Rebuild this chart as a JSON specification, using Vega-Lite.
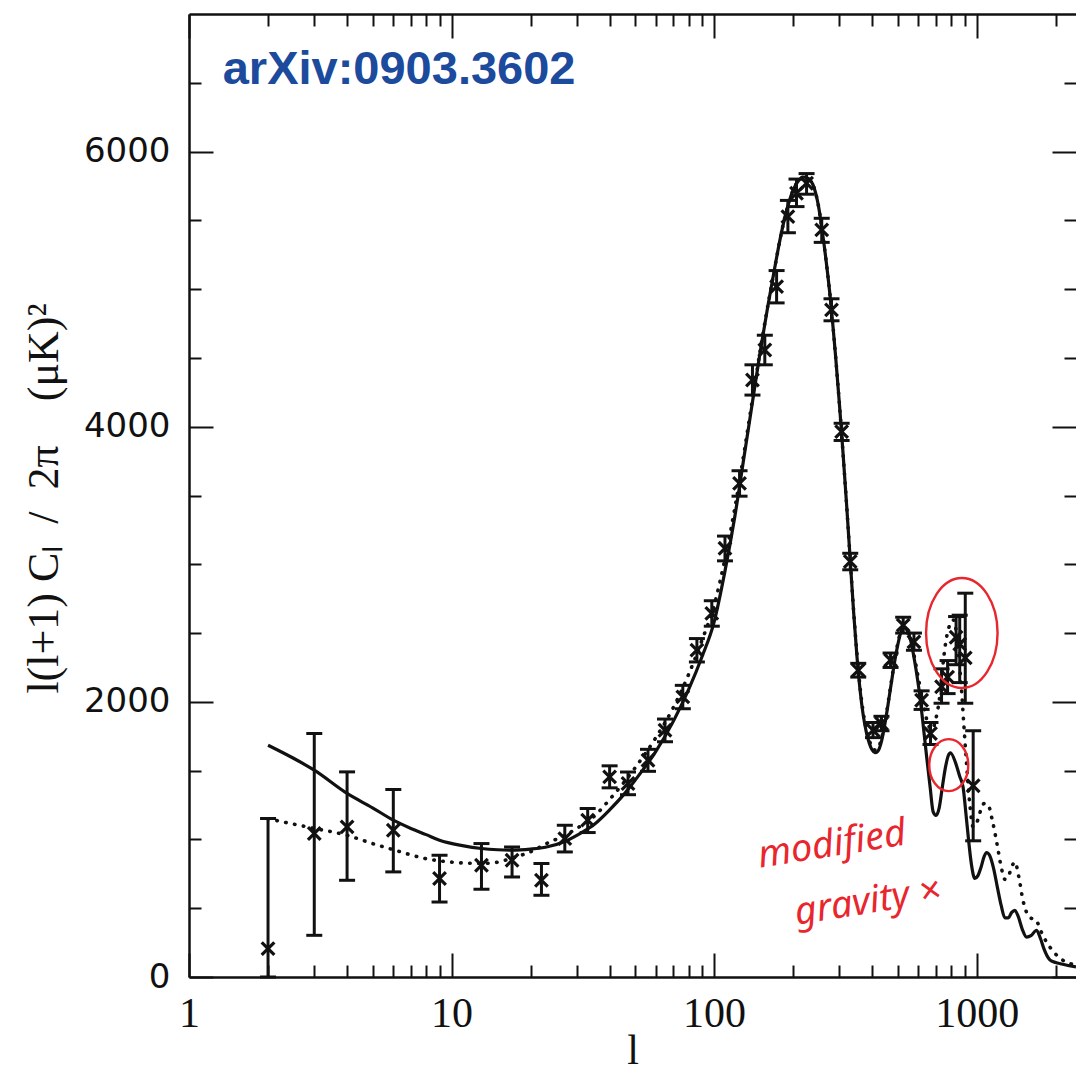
{
  "$schema": "https://vega.github.io/schema/vega-lite/v6.json",
  "width": 887,
  "height": 963,
  "autosize": {"type": "none"},
  "padding": {"left": 189, "top": 14, "right": 0, "bottom": 96},
  "background": "white",
  "config": {
    "view": {"stroke": null},
    "axis": {"grid": false, "domainColor": "#111", "domainWidth": 2.5, "tickColor": "#111", "tickWidth": 2, "labelColor": "#111", "titleColor": "#111"}
  },
  "datasets": {
    "lcdm": [
      {"l": 2, "v": 1685}, {"l": 2.5, "v": 1590}, {"l": 3, "v": 1503}, {"l": 4, "v": 1334}, {"l": 5, "v": 1230},
      {"l": 6, "v": 1140}, {"l": 7, "v": 1080}, {"l": 8, "v": 1035}, {"l": 9, "v": 994}, {"l": 11, "v": 955},
      {"l": 13, "v": 934}, {"l": 15, "v": 925}, {"l": 17, "v": 922}, {"l": 20, "v": 930}, {"l": 23, "v": 945},
      {"l": 27, "v": 985}, {"l": 30, "v": 1030}, {"l": 35, "v": 1110}, {"l": 40, "v": 1215}, {"l": 45, "v": 1320},
      {"l": 50, "v": 1430}, {"l": 60, "v": 1640}, {"l": 70, "v": 1860}, {"l": 80, "v": 2090}, {"l": 90, "v": 2330},
      {"l": 100, "v": 2580}, {"l": 110, "v": 2950}, {"l": 120, "v": 3350}, {"l": 130, "v": 3780}, {"l": 140, "v": 4180},
      {"l": 150, "v": 4550}, {"l": 160, "v": 4870}, {"l": 170, "v": 5150}, {"l": 180, "v": 5400}, {"l": 190, "v": 5590},
      {"l": 200, "v": 5720}, {"l": 210, "v": 5790}, {"l": 220, "v": 5815}, {"l": 230, "v": 5800}, {"l": 240, "v": 5740},
      {"l": 250, "v": 5600}, {"l": 260, "v": 5380}, {"l": 270, "v": 5130}, {"l": 280, "v": 4850}, {"l": 290, "v": 4520},
      {"l": 300, "v": 4170}, {"l": 310, "v": 3800}, {"l": 320, "v": 3420}, {"l": 330, "v": 3030}, {"l": 340, "v": 2650},
      {"l": 350, "v": 2330}, {"l": 360, "v": 2080}, {"l": 370, "v": 1900}, {"l": 380, "v": 1780}, {"l": 390, "v": 1700},
      {"l": 400, "v": 1650}, {"l": 410, "v": 1630}, {"l": 420, "v": 1640}, {"l": 435, "v": 1720}, {"l": 450, "v": 1870},
      {"l": 470, "v": 2100}, {"l": 490, "v": 2320}, {"l": 510, "v": 2480}, {"l": 525, "v": 2540}, {"l": 540, "v": 2530},
      {"l": 560, "v": 2450}, {"l": 580, "v": 2300}, {"l": 600, "v": 2120}, {"l": 620, "v": 1900}, {"l": 645, "v": 1600},
      {"l": 665, "v": 1380}, {"l": 683, "v": 1200}, {"l": 700, "v": 1175}, {"l": 720, "v": 1230}, {"l": 740, "v": 1380},
      {"l": 760, "v": 1520}, {"l": 780, "v": 1610}, {"l": 795, "v": 1630}, {"l": 830, "v": 1560}, {"l": 863, "v": 1455},
      {"l": 888, "v": 1380}, {"l": 910, "v": 1190}, {"l": 929, "v": 1018}, {"l": 955, "v": 820}, {"l": 984, "v": 716},
      {"l": 1010, "v": 735}, {"l": 1040, "v": 800}, {"l": 1070, "v": 880}, {"l": 1091, "v": 905}, {"l": 1120, "v": 885},
      {"l": 1160, "v": 790}, {"l": 1200, "v": 650}, {"l": 1240, "v": 520}, {"l": 1281, "v": 430}, {"l": 1320, "v": 430},
      {"l": 1360, "v": 470}, {"l": 1398, "v": 485}, {"l": 1440, "v": 440}, {"l": 1490, "v": 350}, {"l": 1549, "v": 290},
      {"l": 1610, "v": 300}, {"l": 1691, "v": 340}, {"l": 1750, "v": 280}, {"l": 1800, "v": 210}, {"l": 1900, "v": 125},
      {"l": 2000, "v": 105}, {"l": 2100, "v": 95}, {"l": 2250, "v": 82}, {"l": 2390, "v": 73}
    ],
    "modgrav": [
      {"l": 2, "v": 1150}, {"l": 3, "v": 1080}, {"l": 4, "v": 1030}, {"l": 5, "v": 970}, {"l": 6, "v": 925},
      {"l": 8, "v": 860}, {"l": 10, "v": 835}, {"l": 13, "v": 825}, {"l": 15, "v": 835}, {"l": 17, "v": 865},
      {"l": 20, "v": 910}, {"l": 23, "v": 970}, {"l": 27, "v": 1030}, {"l": 30, "v": 1080}, {"l": 35, "v": 1170},
      {"l": 40, "v": 1290}, {"l": 50, "v": 1520}, {"l": 60, "v": 1740}, {"l": 70, "v": 1960}, {"l": 80, "v": 2200},
      {"l": 90, "v": 2450}, {"l": 100, "v": 2700}, {"l": 110, "v": 3040}, {"l": 120, "v": 3410}, {"l": 130, "v": 3810},
      {"l": 140, "v": 4200}, {"l": 150, "v": 4560}, {"l": 160, "v": 4875}, {"l": 170, "v": 5150}, {"l": 180, "v": 5400},
      {"l": 190, "v": 5590}, {"l": 200, "v": 5720}, {"l": 210, "v": 5790}, {"l": 220, "v": 5815}, {"l": 230, "v": 5800},
      {"l": 240, "v": 5740}, {"l": 250, "v": 5600}, {"l": 260, "v": 5380}, {"l": 270, "v": 5130}, {"l": 280, "v": 4850},
      {"l": 290, "v": 4520}, {"l": 300, "v": 4170}, {"l": 310, "v": 3800}, {"l": 320, "v": 3420}, {"l": 330, "v": 3030},
      {"l": 340, "v": 2660}, {"l": 350, "v": 2350}, {"l": 360, "v": 2100}, {"l": 370, "v": 1920}, {"l": 380, "v": 1800},
      {"l": 390, "v": 1720}, {"l": 400, "v": 1670}, {"l": 410, "v": 1650}, {"l": 420, "v": 1660}, {"l": 435, "v": 1740},
      {"l": 450, "v": 1880}, {"l": 470, "v": 2110}, {"l": 490, "v": 2330}, {"l": 510, "v": 2490}, {"l": 525, "v": 2550},
      {"l": 545, "v": 2520}, {"l": 570, "v": 2390}, {"l": 600, "v": 2170}, {"l": 630, "v": 1960}, {"l": 655, "v": 1830},
      {"l": 675, "v": 1800}, {"l": 700, "v": 1880}, {"l": 720, "v": 2010}, {"l": 740, "v": 2230}, {"l": 765, "v": 2450},
      {"l": 790, "v": 2560}, {"l": 815, "v": 2595}, {"l": 835, "v": 2520}, {"l": 850, "v": 2380}, {"l": 865, "v": 2220},
      {"l": 876, "v": 2085}, {"l": 893, "v": 1843}, {"l": 915, "v": 1552}, {"l": 941, "v": 1261}, {"l": 970, "v": 1091},
      {"l": 1000, "v": 1120}, {"l": 1040, "v": 1220}, {"l": 1070, "v": 1262}, {"l": 1106, "v": 1250}, {"l": 1150, "v": 1130},
      {"l": 1200, "v": 950}, {"l": 1240, "v": 800}, {"l": 1281, "v": 710}, {"l": 1320, "v": 730}, {"l": 1360, "v": 800},
      {"l": 1398, "v": 836}, {"l": 1450, "v": 720}, {"l": 1500, "v": 560}, {"l": 1549, "v": 470}, {"l": 1600, "v": 430},
      {"l": 1660, "v": 420}, {"l": 1700, "v": 400}, {"l": 1760, "v": 330}, {"l": 1850, "v": 250}, {"l": 1950, "v": 190},
      {"l": 2100, "v": 130}, {"l": 2250, "v": 100}, {"l": 2390, "v": 85}
    ],
    "obs": [
      {"l": 2, "v": 206, "lo": 0, "hi": 1152},
      {"l": 3, "v": 1043, "lo": 303, "hi": 1770},
      {"l": 4, "v": 1091, "lo": 703, "hi": 1491},
      {"l": 6, "v": 1067, "lo": 764, "hi": 1363},
      {"l": 9, "v": 716, "lo": 545, "hi": 885},
      {"l": 13, "v": 812, "lo": 638, "hi": 970},
      {"l": 17, "v": 849, "lo": 727, "hi": 945},
      {"l": 22, "v": 703, "lo": 594, "hi": 825},
      {"l": 27, "v": 1006, "lo": 909, "hi": 1103},
      {"l": 33, "v": 1140, "lo": 1050, "hi": 1225},
      {"l": 40, "v": 1455, "lo": 1375, "hi": 1535},
      {"l": 47, "v": 1407, "lo": 1325, "hi": 1490},
      {"l": 56, "v": 1576, "lo": 1495, "hi": 1655},
      {"l": 65, "v": 1794, "lo": 1710, "hi": 1875},
      {"l": 76, "v": 2036, "lo": 1950, "hi": 2120},
      {"l": 86, "v": 2376, "lo": 2290, "hi": 2460},
      {"l": 98, "v": 2643, "lo": 2550, "hi": 2735},
      {"l": 110, "v": 3116, "lo": 3025, "hi": 3205},
      {"l": 125, "v": 3588, "lo": 3495, "hi": 3680},
      {"l": 140, "v": 4340, "lo": 4230, "hi": 4450},
      {"l": 156, "v": 4558, "lo": 4450, "hi": 4665},
      {"l": 173, "v": 5018, "lo": 4900, "hi": 5135},
      {"l": 191, "v": 5527, "lo": 5410, "hi": 5645},
      {"l": 206, "v": 5697, "lo": 5600, "hi": 5800},
      {"l": 225, "v": 5770, "lo": 5690, "hi": 5840},
      {"l": 257, "v": 5431, "lo": 5340, "hi": 5515},
      {"l": 280, "v": 4849, "lo": 4770, "hi": 4930},
      {"l": 306, "v": 3964, "lo": 3900, "hi": 4025},
      {"l": 330, "v": 3020, "lo": 2960, "hi": 3080},
      {"l": 354, "v": 2230, "lo": 2180, "hi": 2280},
      {"l": 403, "v": 1794, "lo": 1740, "hi": 1850},
      {"l": 434, "v": 1843, "lo": 1790, "hi": 1895},
      {"l": 470, "v": 2303, "lo": 2250, "hi": 2355},
      {"l": 525, "v": 2558, "lo": 2500, "hi": 2615},
      {"l": 577, "v": 2436, "lo": 2375, "hi": 2500},
      {"l": 617, "v": 2012, "lo": 1945, "hi": 2080},
      {"l": 667, "v": 1770, "lo": 1690, "hi": 1850},
      {"l": 735, "v": 2110, "lo": 1990, "hi": 2240},
      {"l": 775, "v": 2180, "lo": 2060, "hi": 2300},
      {"l": 835, "v": 2470, "lo": 2270, "hi": 2620},
      {"l": 862, "v": 2420, "lo": 2140, "hi": 2630},
      {"l": 905, "v": 2320, "lo": 1990, "hi": 2790},
      {"l": 970, "v": 1390, "lo": 990, "hi": 1790}
    ],
    "notes": [
      {"kind": "ref", "l": 1.344, "v": 6490, "text": "arXiv:0903.3602"},
      {"kind": "hand", "l": 281, "v": 958, "text": "modified"},
      {"kind": "hand", "l": 385, "v": 543, "text": "gravity ×"},
      {"kind": "big", "l": 878, "v": 2500, "text": ""},
      {"kind": "small", "l": 783, "v": 1540, "text": ""}
    ]
  },
  "resolve": {"axis": {"x": "independent", "y": "independent"}},
  "layer": [
    {
      "data": {"name": "lcdm"},
      "mark": {"type": "line", "color": "#111", "strokeWidth": 3.2, "interpolate": "monotone", "clip": true},
      "encoding": {
        "x": {"field": "l", "type": "quantitative", "scale": {"type": "log", "domain": [1, 2390], "nice": false},
          "axis": {"orient": "bottom", "values": [1, 10, 100, 1000], "format": "d", "ticks": false, "domain": true, "labels": true,
            "labelFont": "Liberation Serif", "labelFontSize": 42, "labelPadding": 16, "labelFlush": false, "labelOverlap": false,
            "title": "l", "titleFont": "Liberation Serif", "titleFontSize": 42, "titleFontWeight": "normal",
            "titleY": 86, "titleBaseline": "alphabetic"}},
        "y": {"field": "v", "type": "quantitative", "scale": {"domain": [0, 7000], "nice": false, "zero": false},
          "axis": {"orient": "left", "values": [0, 2000, 4000, 6000], "format": "d", "ticks": false, "domain": true,
            "labelFont": "DejaVu Sans", "labelFontSize": 34, "labelPadding": 19, "labelFlush": false,
            "title": "l(l+1)\u00a0Cₗ\u00a0\u00a0/\u00a0\u00a02π\u00a0\u00a0\u00a0\u00a0(μK)²",
            "titleFont": "Liberation Serif", "titleFontSize": 44, "titleFontWeight": "normal",
            "titleAngle": 270, "titleBaseline": "alphabetic", "titleAlign": "center", "titleX": -132, "titleY": 484}}
      }
    },
    {
      "data": {"name": "modgrav"},
      "mark": {"type": "line", "color": "#111", "strokeWidth": 3.6, "strokeDash": [0.5, 8.5], "strokeCap": "round", "interpolate": "monotone", "clip": true},
      "encoding": {
        "x": {"field": "l", "type": "quantitative", "scale": {"type": "log", "domain": [1, 2390], "nice": false},
          "axis": {"orient": "bottom", "values": [1, 10, 100, 1000], "tickSize": -24, "labels": false, "domain": false, "title": null}},
        "y": {"field": "v", "type": "quantitative", "scale": {"domain": [0, 7000], "nice": false, "zero": false},
          "axis": {"orient": "left", "values": [0, 2000, 4000, 6000], "tickSize": -24, "labels": false, "domain": false, "title": null}}
      }
    },
    {
      "data": {"name": "obs"},
      "mark": {"type": "rule", "color": "#111", "strokeWidth": 3},
      "encoding": {
        "x": {"field": "l", "type": "quantitative", "scale": {"type": "log", "domain": [1, 2390], "nice": false},
          "axis": {"orient": "bottom", "values": [2, 3, 4, 5, 6, 7, 8, 9, 20, 30, 40, 50, 60, 70, 80, 90, 200, 300, 400, 500, 600, 700, 800, 900, 2000], "tickSize": -12, "labels": false, "domain": false, "title": null}},
        "y": {"field": "lo", "type": "quantitative", "scale": {"domain": [0, 7000], "nice": false, "zero": false},
          "axis": {"orient": "left", "values": [500, 1000, 1500, 2500, 3000, 3500, 4500, 5000, 5500, 6500], "tickSize": -12, "labels": false, "domain": false, "title": null}},
        "y2": {"field": "hi"}
      }
    },
    {
      "data": {"name": "obs"},
      "mark": {"type": "tick", "orient": "horizontal", "color": "#111", "size": 16, "thickness": 3, "opacity": 1},
      "encoding": {
        "x": {"field": "l", "type": "quantitative", "scale": {"type": "log", "domain": [1, 2390], "nice": false},
          "axis": {"orient": "top", "values": [1, 10, 100, 1000], "tickSize": -24, "labels": false, "domain": true, "title": null}},
        "y": {"field": "lo", "type": "quantitative", "scale": {"domain": [0, 7000], "nice": false, "zero": false},
          "axis": {"orient": "right", "values": [0, 2000, 4000, 6000], "tickSize": -24, "labels": false, "domain": false, "title": null}}
      }
    },
    {
      "data": {"name": "obs"},
      "mark": {"type": "tick", "orient": "horizontal", "color": "#111", "size": 16, "thickness": 3, "opacity": 1},
      "encoding": {
        "x": {"field": "l", "type": "quantitative", "scale": {"type": "log", "domain": [1, 2390], "nice": false},
          "axis": {"orient": "top", "values": [2, 3, 4, 5, 6, 7, 8, 9, 20, 30, 40, 50, 60, 70, 80, 90, 200, 300, 400, 500, 600, 700, 800, 900, 2000], "tickSize": -12, "labels": false, "domain": false, "title": null}},
        "y": {"field": "hi", "type": "quantitative", "scale": {"domain": [0, 7000], "nice": false, "zero": false},
          "axis": {"orient": "right", "values": [500, 1000, 1500, 2500, 3000, 3500, 4500, 5000, 5500, 6500], "tickSize": -12, "labels": false, "domain": false, "title": null}}
      }
    },
    {
      "data": {"name": "obs"},
      "mark": {"type": "point", "shape": "M-1,-1L1,1M-1,1L1,-1", "filled": false, "stroke": "#111", "strokeWidth": 3.2, "size": 160, "opacity": 1},
      "encoding": {
        "x": {"field": "l", "type": "quantitative", "scale": {"type": "log", "domain": [1, 2390], "nice": false}, "axis": null},
        "y": {"field": "v", "type": "quantitative", "scale": {"domain": [0, 7000], "nice": false, "zero": false}, "axis": null}
      }
    },
    {
      "data": {"name": "notes"},
      "transform": [{"filter": "datum.kind === 'ref'"}],
      "mark": {"type": "text", "align": "left", "baseline": "alphabetic", "font": "Liberation Sans", "fontSize": 47, "fontWeight": "bold", "color": "#1c4a9c"},
      "encoding": {
        "x": {"field": "l", "type": "quantitative", "scale": {"type": "log", "domain": [1, 2390], "nice": false}, "axis": null},
        "y": {"field": "v", "type": "quantitative", "scale": {"domain": [0, 7000], "nice": false, "zero": false}, "axis": null},
        "text": {"field": "text"}
      }
    },
    {
      "data": {"name": "notes"},
      "transform": [{"filter": "datum.kind === 'hand'"}],
      "mark": {"type": "text", "align": "center", "baseline": "middle", "font": "Noto Sans", "fontSize": 38, "fontStyle": "italic", "color": "#e8262e", "angle": -9},
      "encoding": {
        "x": {"field": "l", "type": "quantitative", "scale": {"type": "log", "domain": [1, 2390], "nice": false}, "axis": null},
        "y": {"field": "v", "type": "quantitative", "scale": {"domain": [0, 7000], "nice": false, "zero": false}, "axis": null},
        "text": {"field": "text"}
      }
    },
    {
      "data": {"name": "notes"},
      "transform": [{"filter": "datum.kind === 'big'"}],
      "mark": {"type": "point", "shape": "M0,-1A0.65,1 0 1 1 0,1A0.65,1 0 1 1 0,-1Z", "filled": false, "stroke": "#e8262e", "strokeWidth": 2.4, "size": 12100, "opacity": 1},
      "encoding": {
        "x": {"field": "l", "type": "quantitative", "scale": {"type": "log", "domain": [1, 2390], "nice": false}, "axis": null},
        "y": {"field": "v", "type": "quantitative", "scale": {"domain": [0, 7000], "nice": false, "zero": false}, "axis": null}
      }
    },
    {
      "data": {"name": "notes"},
      "transform": [{"filter": "datum.kind === 'small'"}],
      "mark": {"type": "point", "shape": "M0,-1A0.75,1 0 1 1 0,1A0.75,1 0 1 1 0,-1Z", "filled": false, "stroke": "#e8262e", "strokeWidth": 2.4, "size": 2704, "opacity": 1},
      "encoding": {
        "x": {"field": "l", "type": "quantitative", "scale": {"type": "log", "domain": [1, 2390], "nice": false}, "axis": null},
        "y": {"field": "v", "type": "quantitative", "scale": {"domain": [0, 7000], "nice": false, "zero": false}, "axis": null}
      }
    }
  ]
}
